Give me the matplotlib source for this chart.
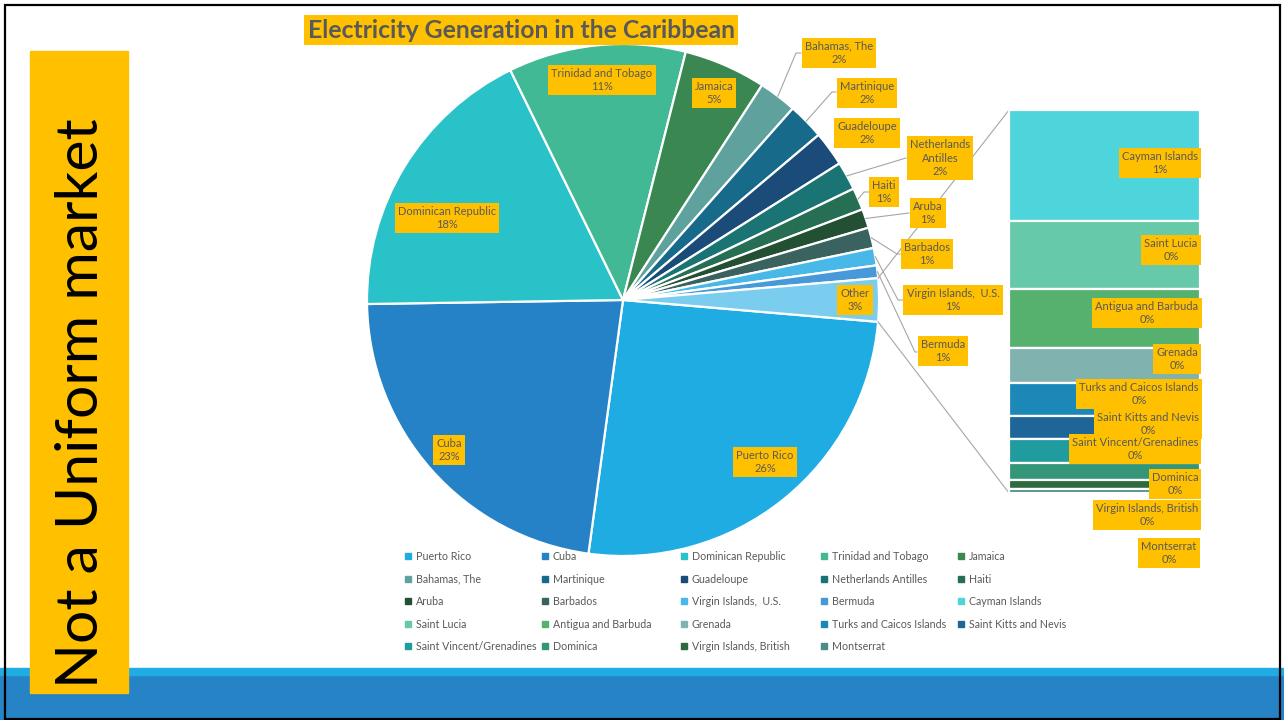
import numpy as np
import matplotlib.pyplot as plt
from matplotlib.patches import Rectangle
from matplotlib.lines import Line2D
from matplotlib.legend import Legend

plt.rcParams['font.family'] = ['Lato', 'DejaVu Sans']

# main pie slices (percent of generation)
main_names = ['Puerto Rico', 'Cuba', 'Dominican Republic', 'Trinidad and Tobago', 'Jamaica',
              'Bahamas, The', 'Martinique', 'Guadeloupe', 'Netherlands Antilles', 'Haiti',
              'Aruba', 'Barbados', 'Virgin Islands,  U.S.', 'Bermuda']
main_values = [25.8, 22.6, 18.0, 11.2, 5.2, 2.4, 2.3, 2.2, 1.8, 1.4, 1.2, 1.3, 1.1, 0.8]
main_colors = ['#1FACE3', '#2682C7', '#29C2C9', '#41B994', '#3A8752', '#5FA29D', '#186A8A',
               '#1A4B79', '#1B7474', '#266F55', '#234F33', '#3A625F', '#47B8E8', '#4799D8']

# "Other" slice, split out in the bar
other_names = ['Cayman Islands', 'Saint Lucia', 'Antigua and Barbuda', 'Grenada',
               'Turks and Caicos Islands', 'Saint Kitts and Nevis', 'Saint Vincent/Grenadines',
               'Dominica', 'Virgin Islands, British', 'Montserrat']
other_values = [0.79, 0.48, 0.42, 0.25, 0.23, 0.17, 0.17, 0.12, 0.06, 0.03]
other_colors = ['#4DD5DB', '#66C9A9', '#56B06E', '#80B3AF', '#1C88B8', '#1F6698', '#209C9F',
                '#349578', '#2E6A3E', '#4C8C87']
other_color = '#7ACDEE'

H = 720
# label centres in picture pixels (x, y from top)
main_label_pos = [(765, 462), (449, 450), (447, 218), (602, 80), (714, 93),
                  (839, 53), (867, 93), (867, 133), (940, 158), (884, 192),
                  (928, 213), (927, 254), (953, 300), (943, 351)]
other_label_pos = [(1160, 163), (1171, 250), (1147, 313), (1177, 359), (1139, 394),
                   (1148, 424), (1135, 449), (1175, 484), (1147, 515), (1169, 553)]
other_slice_label = (855, 300)
# leader line: (elbow, end) per slice, None = no leader
leaders = [None, None, None, None, None,
           ((796, 53), (801, 53)), ((832, 92), (836, 92)), None, (None, (906, 158)),
           ((864, 192), (869, 192)), (None, (909, 213)), ((897, 254), (900, 254)),
           ((898, 300), (903, 300)), ((915, 352), (917, 352))]

yellow = '#FFC000'
txt = '#595959'
line_c = '#A6A6A6'

other_total = sum(other_values)
total = sum(main_values) + other_total

fig = plt.figure(figsize=(12.84, 7.2), dpi=100)
ax = fig.add_axes([0, 0, 1, 1])

# bottom band
ax.add_patch(Rectangle((0, 0), 1284, 45, color='#2683C6', zorder=0))
ax.add_patch(Rectangle((0, 45), 1284, 7, color='#1EACE2', zorder=0))

# pie
cx, cy, r = 623, H - 300, 256
other_deg = other_total / total * 360
wedges, _ = ax.pie(main_values + [other_total], colors=main_colors + [other_color],
                   center=(cx, cy), radius=r, startangle=-other_deg / 2, counterclock=False,
                   wedgeprops=dict(edgecolor='white', linewidth=1.6), frame=True)

# bar of the other slice
bar_left, bar_right = 1009, 1200
bar_top, bar_bot = H - 110, H - 493
scale = (bar_top - bar_bot) / other_total
heights = np.array(other_values) * scale
bottoms = bar_top - np.cumsum(heights)
ax.bar((bar_left + bar_right) / 2, heights, bottom=bottoms, width=bar_right - bar_left,
       color=other_colors, edgecolor='white', linewidth=1.6, zorder=2)

# connectors
a = np.deg2rad(other_deg / 2)
ax.plot([cx + r * np.cos(a), bar_left], [cy + r * np.sin(a), bar_top], color=line_c, lw=0.8, zorder=1)
ax.plot([cx + r * np.cos(-a), bar_left], [cy + r * np.sin(-a), bar_bot], color=line_c, lw=0.8, zorder=1)


def pct(v):
    return '%d%%' % int(v / total * 100 + 0.5)


box = dict(boxstyle='square,pad=0.28', fc=yellow, ec='none')

for i, name in enumerate(main_names):
    w = wedges[i]
    mid = np.deg2rad((w.theta1 + w.theta2) / 2)
    if leaders[i] is not None:
        elbow, end = leaders[i]
        xs = [cx + r * np.cos(mid)]
        ys = [cy + r * np.sin(mid)]
        if elbow is not None:
            xs.append(elbow[0]); ys.append(H - elbow[1])
        xs.append(end[0]); ys.append(H - end[1])
        ax.plot(xs, ys, color=line_c, lw=0.8, zorder=3)
    lab = name.replace('Netherlands ', 'Netherlands\n')
    x, y = main_label_pos[i]
    ax.text(x, H - y, lab + '\n' + pct(main_values[i]), ha='center', va='center',
            fontsize=8, color=txt, linespacing=1.3, bbox=box, zorder=5)

ax.text(other_slice_label[0], H - other_slice_label[1], 'Other\n' + pct(other_total),
        ha='center', va='center', fontsize=8, color=txt, linespacing=1.3, bbox=box, zorder=5)

for i, name in enumerate(other_names):
    x, y = other_label_pos[i]
    ax.text(x, H - y, name + '\n' + pct(other_values[i]), ha='center', va='center',
            fontsize=8, color=txt, linespacing=1.3, bbox=box, zorder=5)

# legend, row-wise in 5 columns
all_names = main_names + other_names
all_colors = main_colors + other_colors
col_x = [404, 541, 680, 820, 957]
for j in range(5):
    idx = list(range(j, len(all_names), 5))
    handles = [Line2D([], [], marker='s', ls='none', color=all_colors[k], markersize=4) for k in idx]
    leg = Legend(ax, handles, [all_names[k] for k in idx], loc='upper left',
                 bbox_to_anchor=(col_x[j] / 1284, 1 - 551 / H), frameon=False, fontsize=7.7,
                 handlelength=0.7, handletextpad=0.4, labelspacing=1.08, borderpad=0,
                 borderaxespad=0, labelcolor=txt)
    ax.add_artist(leg)

# title
ax.text(521, H - 30, 'Electricity Generation in the Caribbean', ha='center', va='center',
        fontsize=17.8, fontweight='bold', color=txt,
        bbox=dict(boxstyle='square,pad=0.16', fc=yellow, ec='none'), zorder=5)

# side box
ax.add_patch(Rectangle((30, H - 693), 98, 642, color=yellow, zorder=6))
ax.text(82, H - 688, 'Not a Uniform market', rotation=90, ha='center', va='bottom',
        fontsize=42.4, color='black', zorder=7)

# slide border
ax.add_patch(Rectangle((5, 1), 1275, 714, fill=False, ec='black', lw=1.6, zorder=8))

ax.set_xlim(0, 1284)
ax.set_ylim(0, H)
ax.set_aspect('equal')
ax.axis('off')

fig.savefig('out.png', dpi=100)
